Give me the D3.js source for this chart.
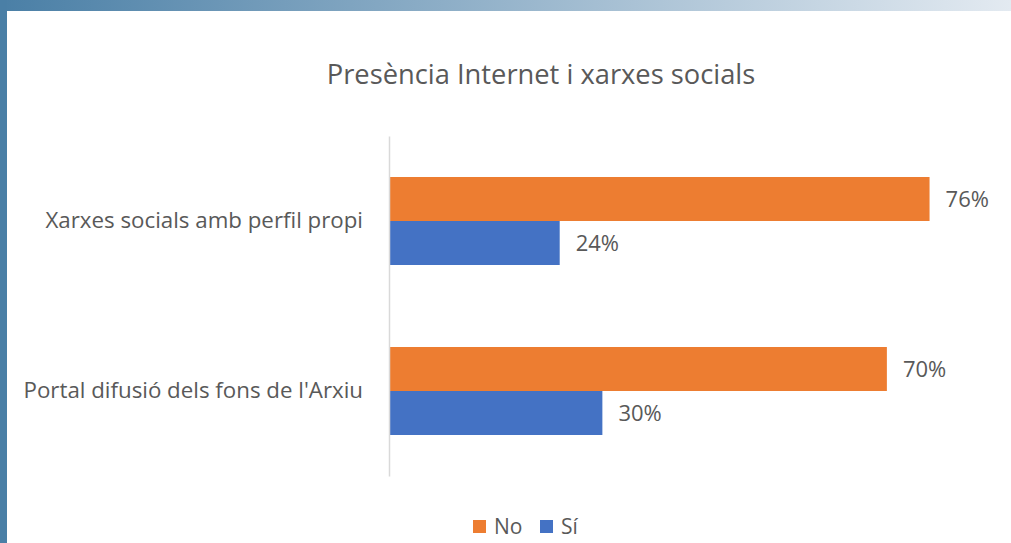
<!DOCTYPE html>
<html>
<head>
<meta charset="utf-8">
<script src="https://cdn.jsdelivr.net/npm/d3@7"></script>
<style>
  body { margin: 0; background: #fff; }
  text { font-family: "Open Sans", sans-serif; fill: #595959; }
</style>
</head>
<body>
<div id="chart"></div>
<script>
// Data
const categories = ["Xarxes socials amb perfil propi", "Portal difusió dels fons de l'Arxiu"];
const series = ["No", "Sí"];
const valuesNo = [76, 70];
const valuesSi = [24, 30];
const colors = ["#ED7D31", "#4472C4"];

const W = 1011, H = 543;

const svg = d3.select("#chart")
    .append("svg")
    .attr("width", W)
    .attr("height", H);

// frame: gradient bar on top, solid bar on left
const grad = svg.append("defs").append("linearGradient")
    .attr("id", "topgrad")
    .attr("x1", "0%").attr("x2", "100%");
grad.append("stop").attr("offset", "0%").attr("stop-color", "#4a7fa6");
grad.append("stop").attr("offset", "100%").attr("stop-color", "#e3eaf1");
svg.append("rect").attr("width", W).attr("height", 11).attr("fill", "url(#topgrad)");
svg.append("rect").attr("width", 7).attr("height", H).attr("fill", "#4a7fa6");

// Title
svg.append("text")
    .attr("x", 541)
    .attr("y", 84)
    .attr("text-anchor", "middle")
    .style("font-size", "27.3px")
    .text("Presència Internet i xarxes socials");

// Scales
const xScale = d3.scaleLinear()
    .domain([0, 80])
    .range([389, 958]);

const yScale = d3.scaleBand()
    .domain(categories)
    .range([136, 476]);

const inner = d3.scaleBand()
    .domain(series)
    .range([yScale.bandwidth() / 2 - 44, yScale.bandwidth() / 2 + 44]);

const rows = categories.map((c, i) => ({
    cat: c,
    vals: [{ s: "No", v: valuesNo[i] }, { s: "Sí", v: valuesSi[i] }]
}));

const group = svg.selectAll(".group")
    .data(rows)
    .enter()
    .append("g")
    .attr("class", "group")
    .attr("transform", d => `translate(0, ${yScale(d.cat)})`);

group.selectAll("rect")
    .data(d => d.vals)
    .enter()
    .append("rect")
    .attr("x", xScale(0))
    .attr("y", d => inner(d.s))
    .attr("width", d => xScale(d.v) - xScale(0))
    .attr("height", inner.bandwidth())
    .attr("fill", (d, i) => colors[i]);

group.selectAll(".label")
    .data(d => d.vals)
    .enter()
    .append("text")
    .attr("class", "label")
    .attr("x", d => xScale(d.v) + 16)
    .attr("y", d => inner(d.s) + inner.bandwidth() / 2)
    .attr("dy", "0.35em")
    .style("font-size", "22px")
    .text(d => d.v + "%");

// Y axis
const yAxis = svg.append("g")
    .attr("transform", `translate(${xScale(0)}, 0)`)
    .call(d3.axisLeft(yScale).tickSize(0).tickPadding(26));
yAxis.select(".domain").attr("stroke", "#d9d9d9").attr("stroke-width", 1.5);
yAxis.selectAll("text")
    .style("font-size", "22.3px")
    .style("font-family", "'Open Sans', sans-serif")
    .attr("fill", "#595959");

// Legend
const legend = svg.append("g").attr("transform", "translate(473, 526)");
const legendX = [0, 67];
series.forEach((s, i) => {
    const g = legend.append("g").attr("transform", `translate(${legendX[i]}, 0)`);
    g.append("rect").attr("x", 0).attr("y", -6).attr("width", 13).attr("height", 13).attr("fill", colors[i]);
    g.append("text").attr("x", 21).attr("y", 1).attr("dy", "0.35em").style("font-size", "21px").text(s);
});
</script>
</body>
</html>
